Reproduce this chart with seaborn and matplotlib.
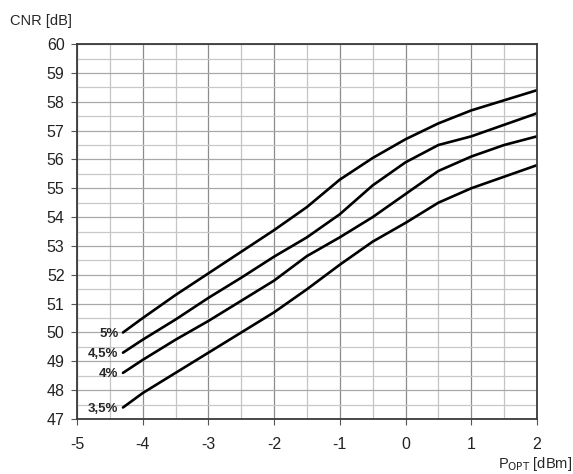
import numpy as np
import pandas as pd
import matplotlib
matplotlib.use("Agg")
import matplotlib.pyplot as plt
from matplotlib.ticker import MultipleLocator
import seaborn as sns

# P_opt [dBm] sample points
p_opt = [-4.3, -4.0, -3.5, -3.0, -2.5, -2.0, -1.5, -1.0, -0.5, 0.0, 0.5, 1.0, 1.5, 2.0]

# CNR [dB] per modulation index
cnr_5 = [50.0, 50.5, 51.3, 52.05, 52.8, 53.55, 54.35, 55.3, 56.05, 56.7, 57.25, 57.7, 58.05, 58.4]
cnr_45 = [49.3, 49.75, 50.45, 51.2, 51.9, 52.63, 53.3, 54.1, 55.1, 55.9, 56.5, 56.8, 57.2, 57.6]
cnr_4 = [48.6, 49.05, 49.75, 50.4, 51.1, 51.8, 52.65, 53.3, 54.0, 54.8, 55.6, 56.1, 56.5, 56.8]
cnr_35 = [47.4, 47.9, 48.6, 49.3, 50.0, 50.7, 51.5, 52.35, 53.15, 53.8, 54.5, 55.0, 55.4, 55.8]

labels = ["5%", "4,5%", "4%", "3,5%"]
series = [cnr_5, cnr_45, cnr_4, cnr_35]

df = pd.DataFrame({
    "p": p_opt * len(series),
    "cnr": sum(series, []),
    "m": np.repeat(labels, len(p_opt)),
})

sns.set_style("white")
plt.rcParams["font.family"] = ["Liberation Sans", "DejaVu Sans"]
plt.rcParams["axes.unicode_minus"] = False

fig = plt.figure(figsize=(5.73, 4.74), dpi=100)
ax = fig.add_axes([0.1344, 0.116, 0.8026, 0.791])

sns.lineplot(data=df, x="p", y="cnr", hue="m", hue_order=labels,
             palette=["black"] * 4, linewidth=1.9, legend=False, ax=ax)

# curve labels at the left end of each curve
for lab, vals in zip(labels, series):
    ax.text(p_opt[0] - 0.07, vals[0] - 0.05, lab, ha="right", va="center",
            fontsize=9.5, fontweight="bold")

ax.set_xlim(-5, 2)
ax.set_ylim(47, 60)
ax.xaxis.set_major_locator(MultipleLocator(1))
ax.xaxis.set_minor_locator(MultipleLocator(0.5))
ax.yaxis.set_major_locator(MultipleLocator(1))
ax.yaxis.set_minor_locator(MultipleLocator(0.5))
ax.xaxis.grid(True, which="major", color="#8c8c8c", linewidth=0.9)
ax.xaxis.grid(True, which="minor", color="#c4c4c4", linewidth=0.9)
ax.yaxis.grid(True, which="major", color="#a8a8a8", linewidth=0.9)
ax.yaxis.grid(True, which="minor", color="#c8c8c8", linewidth=0.9)
ax.set_axisbelow(True)

for s in ax.spines.values():
    s.set_color("#3a3a3a")
    s.set_linewidth(1.3)

ax.tick_params(which="major", direction="out", length=4, width=0.8,
               color="#555555", labelsize=11.5, labelcolor="#222222",
               pad=5, bottom=True, left=True)
ax.tick_params(axis="x", which="major", pad=9)
ax.tick_params(which="minor", length=0)

ax.set_xlabel("")
ax.set_ylabel("")
fig.text(0.017, 0.955, "CNR [dB]", fontsize=10.5, ha="left", va="center")
fig.text(0.998, 0.022, r"P$_{\mathrm{OPT}}$ [dBm]", fontsize=10.5, ha="right", va="center")

fig.savefig("out.png", dpi=100)
